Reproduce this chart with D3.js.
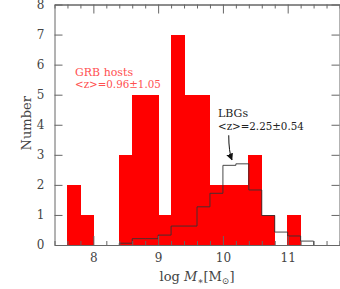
<!DOCTYPE html>
<html>
<head>
<meta charset="utf-8">
<script src="https://cdn.jsdelivr.net/npm/d3@7"></script>
<style>
  body { margin: 0; background: #fff; }
  svg { display: block; }
  .axis path, .axis line { stroke: #666; stroke-width: 1; }
  text { font-family: "DejaVu Serif", serif; }
</style>
</head>
<body>
<div id="chart"></div>
<script>
// bin left edges (log M*), width 0.2
var binWidth = 0.2;
var grbBins = [7.6, 7.8, 8.0, 8.2, 8.4, 8.6, 8.8, 9.0, 9.2, 9.4, 9.6, 9.8, 10.0, 10.2, 10.4, 10.6, 10.8, 11.0];
var grbCounts = [2, 1, 0, 0, 3, 5, 5, 1, 7, 5, 5, 2, 2, 2, 3, 1, 0, 1];

var lbgBins = [8.4, 8.6, 8.8, 9.0, 9.2, 9.4, 9.6, 9.8, 10.0, 10.2, 10.4, 10.6, 10.8, 11.0, 11.2];
var lbgCounts = [0.06, 0.21, 0.21, 0.33, 0.63, 0.63, 1.27, 1.72, 2.65, 2.7, 1.83, 0.98, 0.43, 0.3, 0.13];

var xMajor = [8, 9, 10, 11];
var yMajor = [0, 1, 2, 3, 4, 5, 6, 7, 8];

var width = 340, height = 289;

var svg = d3.select("#chart").append("svg")
  .attr("width", width)
  .attr("height", height);

var x = d3.scaleLinear().domain([7.4, 11.8]).range([54.5, 339.5]);
var y = d3.scaleLinear().domain([0, 8]).range([245, 4.5]);

// GRB host histogram
svg.append("g")
  .attr("shape-rendering", "crispEdges")
  .selectAll("rect")
  .data(grbBins.map(function (b, i) { return { b: b, n: grbCounts[i] }; }))
  .enter()
  .append("rect")
  .attr("x", function (d) { return Math.floor(x(d.b)); })
  .attr("width", function (d) { return Math.ceil(x(d.b + binWidth)) - Math.floor(x(d.b)); })
  .attr("y", function (d) { return y(d.n); })
  .attr("height", function (d) { return y(0) - y(d.n); })
  .attr("fill", "#ff0000");

// LBG step outline
var steps = [[lbgBins[0], 0]];
lbgBins.forEach(function (b, i) {
  steps.push([b, lbgCounts[i]]);
  steps.push([b + binWidth, lbgCounts[i]]);
});
steps.push([lbgBins[lbgBins.length - 1] + binWidth, 0]);

svg.append("path")
  .datum(steps)
  .attr("fill", "none")
  .attr("stroke", "#333")
  .attr("stroke-width", 0.9)
  .attr("d", d3.line().x(function (d) { return x(d[0]); }).y(function (d) { return y(d[1]); }));

// axes, ticks inward
var xMinor = d3.range(7.4, 11.81, 0.2).map(function (v) { return +v.toFixed(1); })
  .filter(function (v) { return xMajor.indexOf(v) < 0; });

svg.append("g").attr("class", "axis")
  .attr("transform", "translate(0," + y(0) + ")")
  .call(d3.axisBottom(x).tickValues(xMinor).tickSize(-4).tickFormat("").tickSizeOuter(0));
svg.append("g").attr("class", "axis xlab")
  .attr("transform", "translate(0," + y(0) + ")")
  .call(d3.axisBottom(x).tickValues(xMajor).tickSize(-9).tickPadding(8).tickFormat(d3.format("d")).tickSizeOuter(0));
svg.append("g").attr("class", "axis")
  .attr("transform", "translate(0," + y(8) + ")")
  .call(d3.axisTop(x).tickValues(xMinor).tickSize(-4).tickFormat("").tickSizeOuter(0));
svg.append("g").attr("class", "axis")
  .attr("transform", "translate(0," + y(8) + ")")
  .call(d3.axisTop(x).tickValues(xMajor).tickSize(-9).tickFormat("").tickSizeOuter(0));

svg.append("g").attr("class", "axis ylab")
  .attr("transform", "translate(" + x(7.4) + ",0)")
  .call(d3.axisLeft(y).tickValues(yMajor).tickSize(-8).tickPadding(10).tickFormat(d3.format("d")).tickSizeOuter(0));
svg.append("g").attr("class", "axis")
  .attr("transform", "translate(" + x(11.8) + ",0)")
  .call(d3.axisRight(y).tickValues(yMajor).tickSize(-8).tickFormat("").tickSizeOuter(0));

svg.selectAll(".xlab text, .ylab text")
  .style("font-family", "'DejaVu Serif', serif")
  .style("font-size", "12px")
  .attr("fill", "#444");

// axis titles
svg.append("text")
  .attr("transform", "translate(31," + y(4.05) + ") rotate(-90)")
  .attr("text-anchor", "middle")
  .attr("font-size", 13)
  .attr("fill", "#444")
  .text("Number");

var xt = svg.append("text")
  .attr("x", 197)
  .attr("y", 281)
  .attr("text-anchor", "middle")
  .attr("font-size", 13)
  .attr("fill", "#444");
xt.append("tspan").text("log ");
xt.append("tspan").attr("font-style", "italic").text("M");
xt.append("tspan").attr("font-size", 9).attr("dy", 3).text("\u2217");
xt.append("tspan").attr("dy", -3).text("[M");
xt.append("tspan").attr("font-size", 9).attr("dy", 3).text("\u2299");
xt.append("tspan").attr("dy", -3).text("]");

// annotations
svg.append("text")
  .attr("x", 75).attr("y", 76)
  .attr("font-size", 11).attr("fill", "#ff5050")
  .text("GRB hosts");
svg.append("text")
  .attr("x", 75).attr("y", 88)
  .attr("font-size", 10.3).attr("fill", "#ff5050")
  .text("<z>=0.96\u00b11.05");

svg.append("text")
  .attr("x", 218).attr("y", 117)
  .attr("font-size", 11).attr("fill", "#222")
  .text("LBGs");
svg.append("text")
  .attr("x", 218).attr("y", 130)
  .attr("font-size", 10.3).attr("fill", "#222")
  .text("<z>=2.25\u00b10.54");

svg.append("defs").append("marker")
  .attr("id", "head")
  .attr("viewBox", "0 0 10 10")
  .attr("refX", 9).attr("refY", 5)
  .attr("markerWidth", 7).attr("markerHeight", 7)
  .attr("markerUnits", "userSpaceOnUse")
  .attr("orient", "auto")
  .append("path")
  .attr("d", "M0,0 L10,5 L0,10 Z")
  .attr("fill", "#111");

svg.append("path")
  .attr("d", "M" + x(10.09) + "," + y(3.65) + " Q" + x(10.09) + "," + y(3.1) + " " + x(10.14) + "," + y(2.83))
  .attr("fill", "none")
  .attr("stroke", "#111")
  .attr("stroke-width", 1)
  .attr("marker-end", "url(#head)");
</script>
</body>
</html>
